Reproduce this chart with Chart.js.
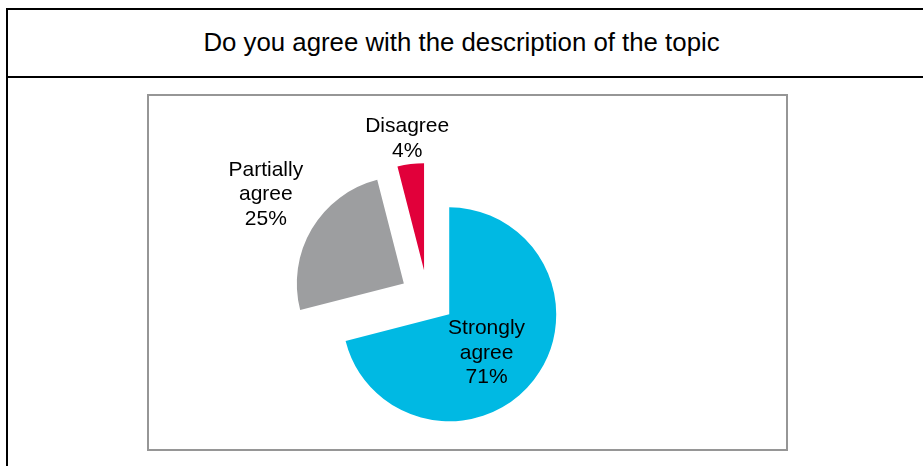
<!DOCTYPE html>
<html>
<head>
<meta charset="utf-8">
<script src="https://cdn.jsdelivr.net/npm/chart.js@4/dist/chart.umd.min.js"></script>
<style>
  html, body { margin: 0; padding: 0; background: #fff; overflow: hidden; }
  body { width: 923px; height: 466px; position: relative; font-family: "Liberation Sans", Arial, sans-serif; }
  #outer { position: absolute; left: 6px; top: 8px; width: 940px; height: 480px; border: 2px solid #000; box-sizing: border-box; }
  #sep { position: absolute; left: 6px; top: 76px; width: 940px; height: 2px; background: #000; }
  #title { position: absolute; left: 0; top: 28px; width: 923px; text-align: center; font-size: 25.8px; color: #000; line-height: 28px; }
  #box { position: absolute; left: 147px; top: 94px; width: 641px; height: 357px; border: 2px solid #969696; box-sizing: border-box; }
  #wrap { position: absolute; left: 0; top: 0; width: 923px; height: 466px; }
</style>
</head>
<body>
<div id="outer"></div>
<div id="sep"></div>
<div id="title">Do you agree with the description of the topic</div>
<div id="box"></div>
<div id="wrap"><canvas id="c"></canvas></div>
<script>
const categories = ['Strongly agree', 'Partially agree', 'Disagree'];
const values = [71, 25, 4];
const percentLabels = ['71%', '25%', '4%'];
const sliceColors = ['#00B9E3', '#9D9EA0', '#E1003A'];

const EXPLODE_PX = 27.5;       // every slice pulled out from the centre by this distance
const labelRadiusFactor = [0.49, 1.545, 1.26];
const labelAngleShiftDeg = [6.8, 2.8, 0];
const labelNudgeY = 2;

// Explode each slice along its mid-angle (like an exploded Excel pie), keeping the radius unchanged
const explodePlugin = {
  id: 'explodeSlices',
  beforeDatasetsDraw(chart) {
    const meta = chart.getDatasetMeta(0);
    meta.data.forEach(arc => {
      if (arc._exploded) return;
      const origDraw = arc.draw;
      arc.draw = function (ctx, area) {
        const mid = (this.startAngle + this.endAngle) / 2;
        ctx.save();
        ctx.translate(Math.cos(mid) * EXPLODE_PX, Math.sin(mid) * EXPLODE_PX);
        origDraw.call(this, ctx, area);
        ctx.restore();
      };
      arc._exploded = true;
    });
  }
};

const labelPlugin = {
  id: 'sliceLabels',
  afterDatasetsDraw(chart) {
    const ctx = chart.ctx;
    const meta = chart.getDatasetMeta(0);
    ctx.save();
    ctx.font = '21px "Liberation Sans", Arial, sans-serif';
    ctx.fillStyle = '#000';
    ctx.textAlign = 'center';
    ctx.textBaseline = 'middle';
    meta.data.forEach((arc, i) => {
      const R = arc.outerRadius;
      const mid = (arc.startAngle + arc.endAngle) / 2;
      const ang = mid + labelAngleShiftDeg[i] * Math.PI / 180;
      const r = labelRadiusFactor[i] * R;
      const cx = arc.x + Math.cos(mid) * EXPLODE_PX + Math.cos(ang) * r;
      const cy = arc.y + Math.sin(mid) * EXPLODE_PX + Math.sin(ang) * r + labelNudgeY;
      const lines = categories[i].split(' ').concat([percentLabels[i]]);
      const lh = 24.5;
      const top = cy - (lines.length - 1) * lh / 2;
      lines.forEach((t, k) => ctx.fillText(t, cx, top + k * lh));
    });
    ctx.restore();
  }
};

new Chart(document.getElementById('c'), {
  type: 'pie',
  data: {
    labels: categories,
    datasets: [{
      data: values,
      backgroundColor: sliceColors,
      borderWidth: 0,
      offset: 0,
      hoverOffset: 0
    }]
  },
  options: {
    responsive: true,
    maintainAspectRatio: false,
    animation: false,
    radius: 107,
    layout: { padding: { left: 0, right: 68, top: 129, bottom: 0 } },
    plugins: { legend: { display: false }, tooltip: { enabled: false }, title: { display: false } },
    events: []
  },
  plugins: [explodePlugin, labelPlugin]
});
</script>
</body>
</html>
